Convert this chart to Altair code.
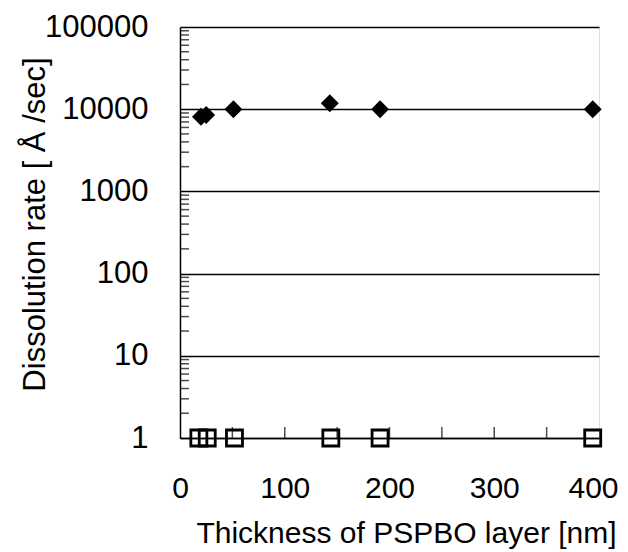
import altair as alt
import pandas as pd

# Data
diamond_x = [20, 25, 51, 143, 191, 394]
diamond_y = [8100, 8500, 10000, 11800, 10000, 10000]
square_x = [18, 26, 52, 144, 191, 394]
square_y = [1, 1, 1, 1, 1, 1]

y_major = [1, 10, 100, 1000, 10000, 100000]
x_labels = [0, 100, 200, 300, 400]
x_minor = [50, 100, 150, 200, 250, 300, 350]
y_minor = [m * 10 ** k for k in range(5) for m in range(2, 10)]

W, H = 419, 411
FONT = "Liberation Sans"

df_d = pd.DataFrame({"x": diamond_x, "y": diamond_y})
df_s = pd.DataFrame({"x": square_x, "y": square_y})
df_ym = pd.DataFrame({"y": y_minor})
df_xm = pd.DataFrame({"x": x_minor})

xscale = alt.Scale(domain=[0, 400], nice=False, zero=False)
yscale = alt.Scale(type="log", domain=[1, 100000], nice=False)

xaxis = alt.Axis(values=x_labels, grid=False, ticks=False, domain=True,
                 domainColor="black", domainWidth=1.5, labelFlush=False,
                 labelOverlap=False,
                 labelOffset={"condition": {"test": "datum.value === 400", "value": -6},
                              "value": 0},
                 labelFontSize=30, labelFont=FONT, labelColor="black",
                 labelPadding=35, title="Thickness of PSPBO layer [nm]",
                 titleFontSize=30, titleFont=FONT, titleFontWeight="normal",
                 titleColor="black", titleX=226, titleY=104,
                 titleBaseline="alphabetic", titleAlign="center")
yaxis = alt.Axis(values=y_major, format="d", grid=True, gridColor="black",
                 gridWidth=1.5, gridOpacity=1, ticks=False, domain=True,
                 domainColor="black", domainWidth=1.5, labelFlush=False,
                 labelOverlap=False,
                 labelFontSize=31, labelFont=FONT, labelColor="black",
                 labelPadding=32, title="Dissolution rate [ Å /sec]",
                 titleFontSize=31, titleFont=FONT, titleFontWeight="normal",
                 titleColor="black", titleX=-136, titleY=197,
                 titleBaseline="alphabetic", titleAlign="center", titleAngle=270)

diamonds = alt.Chart(df_d).mark_point(shape="diamond", filled=True, color="black",
                                      size=320, opacity=1).encode(
    x=alt.X("x:Q", scale=xscale, axis=xaxis),
    y=alt.Y("y:Q", scale=yscale, axis=yaxis),
)
squares = alt.Chart(df_s).mark_point(shape="square", filled=False, color="black",
                                     size=256, strokeWidth=2.8, opacity=1).encode(
    x=alt.X("x:Q", scale=xscale),
    y=alt.Y("y:Q", scale=yscale),
)
yticks = alt.Chart(df_ym).mark_tick(color="black", thickness=1.5, size=9,
                                    orient="horizontal").encode(
    y=alt.Y("y:Q", scale=yscale),
    x=alt.value(4.5),
)
xticks = alt.Chart(df_xm).mark_tick(color="black", thickness=1.5, size=11,
                                    orient="vertical").encode(
    x=alt.X("x:Q", scale=xscale),
    y=alt.value(H - 5.5),
)

chart = alt.layer(yticks, xticks, diamonds, squares).properties(
    width=W, height=H,
    autosize=alt.AutoSizeParams(type="none"),
    padding={"left": 172, "top": 19, "right": 21, "bottom": 114},
).configure_view(stroke="black", strokeWidth=1.5).configure(background="white")

chart.save("out.html", embed_options={"renderer": "svg", "actions": False})
